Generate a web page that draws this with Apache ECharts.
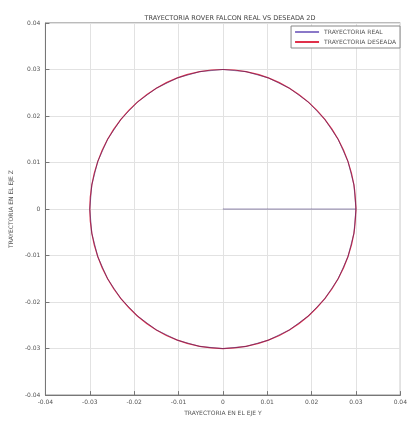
<!DOCTYPE html>
<html><head><meta charset="utf-8">
<script src="https://cdn.jsdelivr.net/npm/echarts@6/dist/echarts.min.js"></script>
<style>html,body{margin:0;padding:0;background:#fff}#c{width:410px;height:421px}</style>
</head><body><div id="c"></div>
<script>
const titleText = 'TRAYECTORIA ROVER FALCON REAL VS DESEADA 2D';
const xLabel = 'TRAYECTORIA EN EL EJE Y';
const yLabel = 'TRAYECTORIA EN EL EJE Z';
const seriesNames = ['TRAYECTORIA REAL', 'TRAYECTORIA DESEADA'];
const circleX = [0.03,0.02954,0.02819,0.02598,0.02298,0.01928,0.015,0.01026,0.00521,0,-0.00521,-0.01026,-0.015,-0.01928,-0.02298,-0.02598,-0.02819,-0.02954,-0.03,-0.02954,-0.02819,-0.02598,-0.02298,-0.01928,-0.015,-0.01026,-0.00521,0,0.00521,0.01026,0.015,0.01928,0.02298,0.02598,0.02819,0.02954,0.03];
const circleY = [0,0.00521,0.01026,0.015,0.01928,0.02298,0.02598,0.02819,0.02954,0.03,0.02954,0.02819,0.02598,0.02298,0.01928,0.015,0.01026,0.00521,0,-0.00521,-0.01026,-0.015,-0.01928,-0.02298,-0.02598,-0.02819,-0.02954,-0.03,-0.02954,-0.02819,-0.02598,-0.02298,-0.01928,-0.015,-0.01026,-0.00521,0];
const realStartX = [0, 0.03];
const realStartY = [0, 0];
const xTicks = [-0.04,-0.03,-0.02,-0.01,0,0.01,0.02,0.03,0.04];
const yTicks = [-0.04,-0.03,-0.02,-0.01,0,0.01,0.02,0.03,0.04];

const desired = circleX.map((x,i)=>[x,circleY[i]]);
const real = realStartX.map((x,i)=>[x,realStartY[i]]).concat(desired);
const fmt = v => v===0 ? '0' : v.toFixed(2);
const tickFont = {fontFamily:'DejaVu Sans', fontSize:6, color:'#555'};

const chart = echarts.init(document.getElementById('c'));
chart.setOption({
  animation:false,
  title:{text:titleText,left:225,top:10,textAlign:'center',textStyle:{fontFamily:'DejaVu Sans',fontSize:6.5,fontWeight:'normal',color:'#444'}},
  grid:{left:43,right:7,top:23,bottom:24,show:true,borderColor:'#777',borderWidth:1,backgroundColor:'#fff'},
  legend:{right:10,top:26,orient:'vertical',itemWidth:24,itemHeight:2,itemGap:4,padding:[3,4,3,4],
    backgroundColor:'#fff',borderColor:'#888',borderWidth:1,borderRadius:0,
    textStyle:{fontFamily:'DejaVu Sans',fontSize:6,color:'#555'},
    data:[{name:seriesNames[0],icon:'rect'},{name:seriesNames[1],icon:'rect'}]},
  xAxis:{type:'value',min:-0.04,max:0.04,interval:0.01,name:xLabel,nameLocation:'middle',nameGap:13,
    nameTextStyle:{fontFamily:'DejaVu Sans',fontSize:6,color:'#555'},
    axisLine:{onZero:false,lineStyle:{color:'#777'}},axisTick:{inside:true,length:4,lineStyle:{color:'#777'}},
    axisLabel:Object.assign({margin:4,formatter:fmt},tickFont),
    splitLine:{show:true,lineStyle:{color:'#e2e2e2',width:1}}},
  yAxis:{type:'value',min:-0.04,max:0.04,interval:0.01,name:yLabel,nameLocation:'middle',nameGap:28,
    nameTextStyle:{fontFamily:'DejaVu Sans',fontSize:6,color:'#555'},
    axisLine:{onZero:false,lineStyle:{color:'#777'}},axisTick:{inside:true,length:4,lineStyle:{color:'#777'}},
    axisLabel:Object.assign({margin:5,formatter:fmt},tickFont),
    splitLine:{show:true,lineStyle:{color:'#e2e2e2',width:1}}},
  series:[
    {name:seriesNames[1],type:'line',data:desired,showSymbol:false,smooth:0.3,z:2,
      lineStyle:{color:'#e0304a',width:1.2},itemStyle:{color:'#e0304a'}},
    {name:seriesNames[0],type:'line',data:real,showSymbol:false,smooth:false,z:3,
      lineStyle:{color:'#3a2870',width:1,opacity:0.55},itemStyle:{color:'#8a78c8'}}
  ]
});
</script></body></html>
